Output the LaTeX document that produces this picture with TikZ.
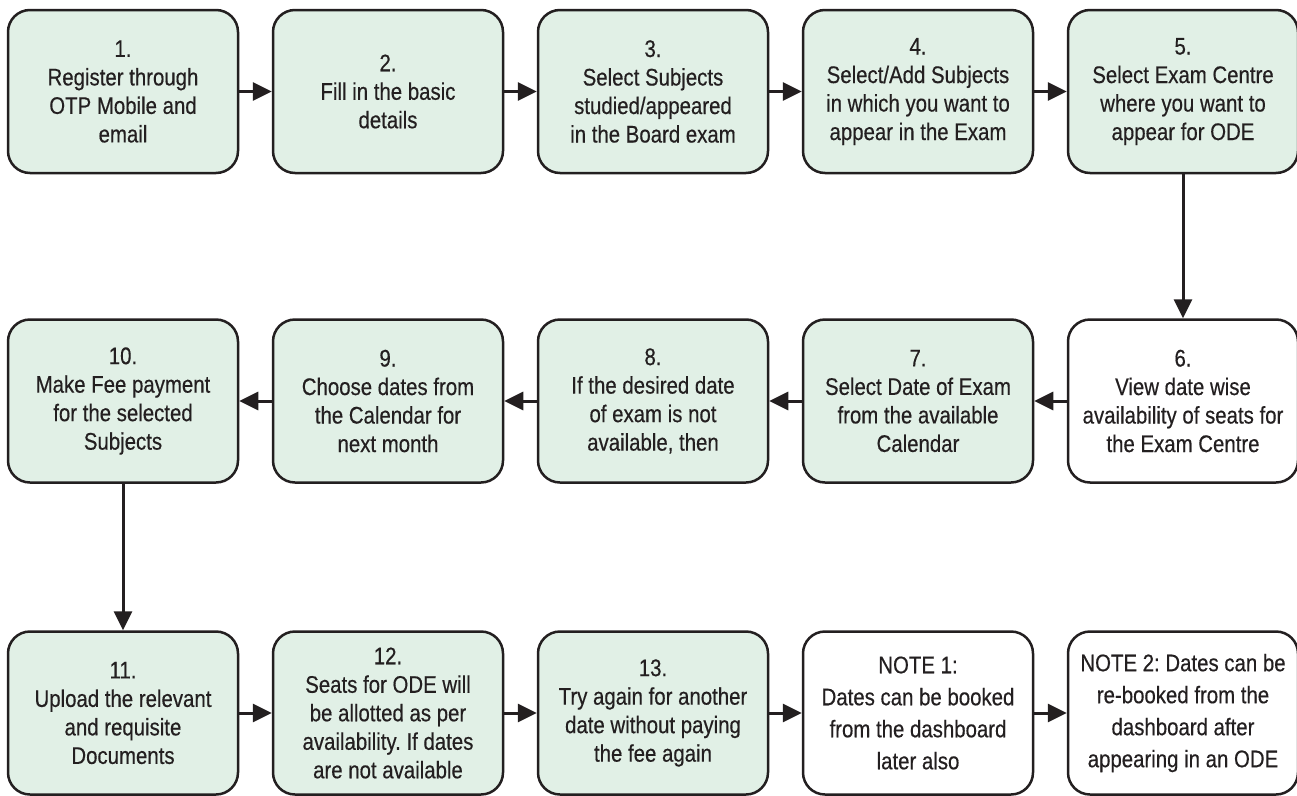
\documentclass[tikz,border=0pt]{standalone}
\usepackage{fontspec}
\setmainfont{Liberation Sans}[FakeStretch=0.85, FakeBold=0.4]
\usepackage{tikz}
\usetikzlibrary{positioning,arrows.meta}
\definecolor{boxgreen}{HTML}{E1F0E6}
\definecolor{ink}{HTML}{231F20}
\frenchspacing

\begin{document}
\begin{tikzpicture}[x=1pt, y=1pt, node distance={265pt}, ink,
    main/.style={draw=ink, line width=2.5pt, rounded corners=22pt, fill=boxgreen,
        minimum width=230pt, minimum height=163pt, inner sep=0pt, align=center,
        text=ink, font=\fontsize{24}{28.5}\selectfont},
    plain/.style={main, fill=white},
    note/.style={plain, font=\fontsize{24}{32}\selectfont},
    arr/.style={-{Triangle[length=19pt,width=18pt]}, line width=3pt, draw=ink}]
    \useasboundingbox (0,0) rectangle (1297,-795);
    % first row
    \node[main] (1) at (123,-91.5) {1.\\Register through\\OTP Mobile and\\email};
    \node[main] (2) [right of = 1] {2.\\Fill in the basic\\details};
    \node[main] (3) [right of = 2] {3.\\Select Subjects\\studied/appeared\\in the Board exam};
    \node[main] (4) [right of = 3] {4.\\Select/Add Subjects\\in which you want to\\appear in the Exam};
    \node[main] (5) [right of = 4] {5.\\Select Exam Centre\\where you want to\\appear for ODE};
    % second row
    \node[plain] (6) [below of = 5, node distance=309.5pt] {6.\\View date wise\\availability of seats for\\the Exam Centre};
    \node[main] (7) [left of = 6] {7.\\Select Date of Exam\\from the available\\Calendar};
    \node[main] (8) [left of = 7] {8.\\If the desired date\\of exam is not\\available, then};
    \node[main] (9) [left of = 8] {9.\\Choose dates from\\the Calendar for\\next month};
    \node[main] (10) [left of = 9] {10.\\Make Fee payment\\for the selected\\Subjects};
    % third row
    \node[main] (11) [below of = 10, node distance=312pt] {11.\\Upload the relevant\\and requisite\\Documents};
    \node[main] (12) [right of = 11] {12.\\Seats for ODE will\\be allotted as per\\availability. If dates\\are not available};
    \node[main] (13) [right of = 12] {13.\\Try again for another\\date without paying\\the fee again};
    \node[note] (n1) [right of = 13] {NOTE 1:\\Dates can be booked\\from the dashboard\\later also};
    \node[note] (n2) [right of = n1] {NOTE 2: Dates can be\\re-booked from the\\dashboard after\\appearing in an ODE};

    \draw[arr] (1) -- (2);
    \draw[arr] (2) -- (3);
    \draw[arr] (3) -- (4);
    \draw[arr] (4) -- (5);
    \draw[arr] (5) -- (6);
    \draw[arr] (6) -- (7);
    \draw[arr] (7) -- (8);
    \draw[arr] (8) -- (9);
    \draw[arr] (9) -- (10);
    \draw[arr] (10) -- (11);
    \draw[arr] (11) -- (12);
    \draw[arr] (12) -- (13);
    \draw[arr] (13) -- (n1);
    \draw[arr] (n1) -- (n2);
\end{tikzpicture}
\end{document}
